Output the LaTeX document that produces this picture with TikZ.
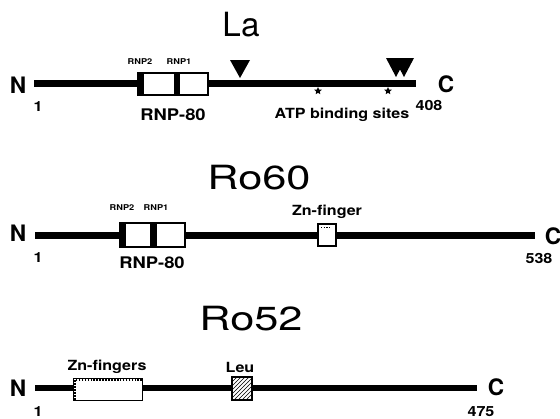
\documentclass[tikz,border=0pt]{standalone}
\usepackage{fontspec}
\setmainfont{TeX Gyre Heros}
\newfontfamily\lblfont[FakeStretch=1.15]{TeX Gyre Heros}
\newfontfamily\ttlfont[FakeStretch=1.3]{TeX Gyre Heros}
\usepackage{tikz}
\usetikzlibrary{shapes.geometric, patterns}

\begin{document}
\begin{tikzpicture}[x=0.75pt, y=-0.75pt,
    backbone/.style={line width=4.6pt},
    motifbox/.style={draw, fill=white, line width=1pt},
    protname/.style={inner sep=0pt, font=\fontsize{25}{25}\selectfont},
    term/.style={inner sep=0pt, font=\bfseries\fontsize{17}{17}\selectfont},
    lbl/.style={inner sep=0pt, font=\lblfont\bfseries\fontsize{10.5}{10.5}\selectfont},
    biglbl/.style={inner sep=0pt, font=\lblfont\bfseries\fontsize{12}{12}\selectfont},
    smalllbl/.style={inner sep=0pt, font=\lblfont\bfseries\fontsize{6}{6}\selectfont},
    site/.style={star, star points=5, star point ratio=2.2, fill, inner sep=0pt, minimum size=6pt}]
  \useasboundingbox (0,0) rectangle (560,418);

  % La
  \node[protname] (laTitle) at (241,25) {La};
  \coordinate (laStart) at (34,83.5);
  \coordinate (laEnd) at (416,83.5);
  \draw[backbone] (laStart) -- (laEnd);
  \node[term] (laN) at (18,85) {N};
  \node[term] (laC) at (446,84) {C};
  \node[lbl] (laFirst) at (38,107) {1};
  \node[lbl] (laLast) at (429,105) {408};
  \draw[motifbox] (138,73) rectangle (208,95);
  \fill (138,73) rectangle (144,95);
  \fill (174,73) rectangle (180,95);
  \node[smalllbl] (laRnpB) at (140,62) {RNP2};
  \node[smalllbl] (laRnpA) at (179,62) {RNP1};
  \node[biglbl] (laRnp) at (173,115) {RNP-80};
  \fill (230,60) -- (250,60) -- (240,78) -- cycle;
  \fill (386,58) -- (406,58) -- (396,77) -- cycle;
  \fill (394,58) -- (414,58) -- (404,77) -- cycle;
  \node[site] (laSiteA) at (318,91) {};
  \node[site] (laSiteB) at (388,91) {};
  \node[lbl] (laAtp) at (342,115) {ATP binding sites};

  % Ro60
  \node[protname, font=\ttlfont\fontsize{25}{25}\selectfont] (roSixTitle) at (259,178) {Ro60};
  \coordinate (roSixStart) at (35,235.5);
  \coordinate (roSixEnd) at (535,235.5);
  \draw[backbone] (roSixStart) -- (roSixEnd);
  \node[term] (roSixN) at (18,233) {N};
  \node[term] (roSixC) at (553,236) {C};
  \node[lbl] (roSixFirst) at (38,258) {1};
  \node[lbl] (roSixLast) at (539,258) {538};
  \draw[motifbox] (120,223) rectangle (185,247);
  \fill (120,223) rectangle (126,247);
  \fill (150,223) rectangle (157,247);
  \node[smalllbl] (roSixRnpB) at (122,208) {RNP2};
  \node[smalllbl] (roSixRnpA) at (156,208) {RNP1};
  \node[biglbl] (roSixRnp) at (152,263) {RNP-80};
  \draw[motifbox] (318,224) rectangle (336,246);
  \draw[densely dotted, line width=1pt] (321,227.5) -- (331,227.5);
  \node[lbl] (roSixZn) at (327,212) {Zn-finger};

  % Ro52
  \node[protname, font=\ttlfont\fontsize{25}{25}\selectfont] (roFiveTitle) at (251,319) {Ro52};
  \coordinate (roFiveStart) at (35,388);
  \coordinate (roFiveEnd) at (477,388);
  \draw[backbone] (roFiveStart) -- (roFiveEnd);
  \node[term] (roFiveN) at (18,388) {N};
  \node[term] (roFiveC) at (496,387) {C};
  \node[lbl] (roFiveFirst) at (38,412) {1};
  \node[lbl] (roFiveLast) at (481,412) {475};
  \draw[motifbox, line width=0.6pt] (73,378) rectangle (142,400);
  \draw[densely dotted, line width=1.2pt] (142,380) -- (75,380) -- (75,400);
  \node[lbl] (roFiveZn) at (107,367) {Zn-fingers};
  \draw[motifbox, line width=1.2pt] (232,377) rectangle (252,400);
  \fill[pattern=north east lines] (232,377) rectangle (252,400);
  \node[lbl] (roFiveLeu) at (240,367) {Leu};
\end{tikzpicture}
\end{document}
